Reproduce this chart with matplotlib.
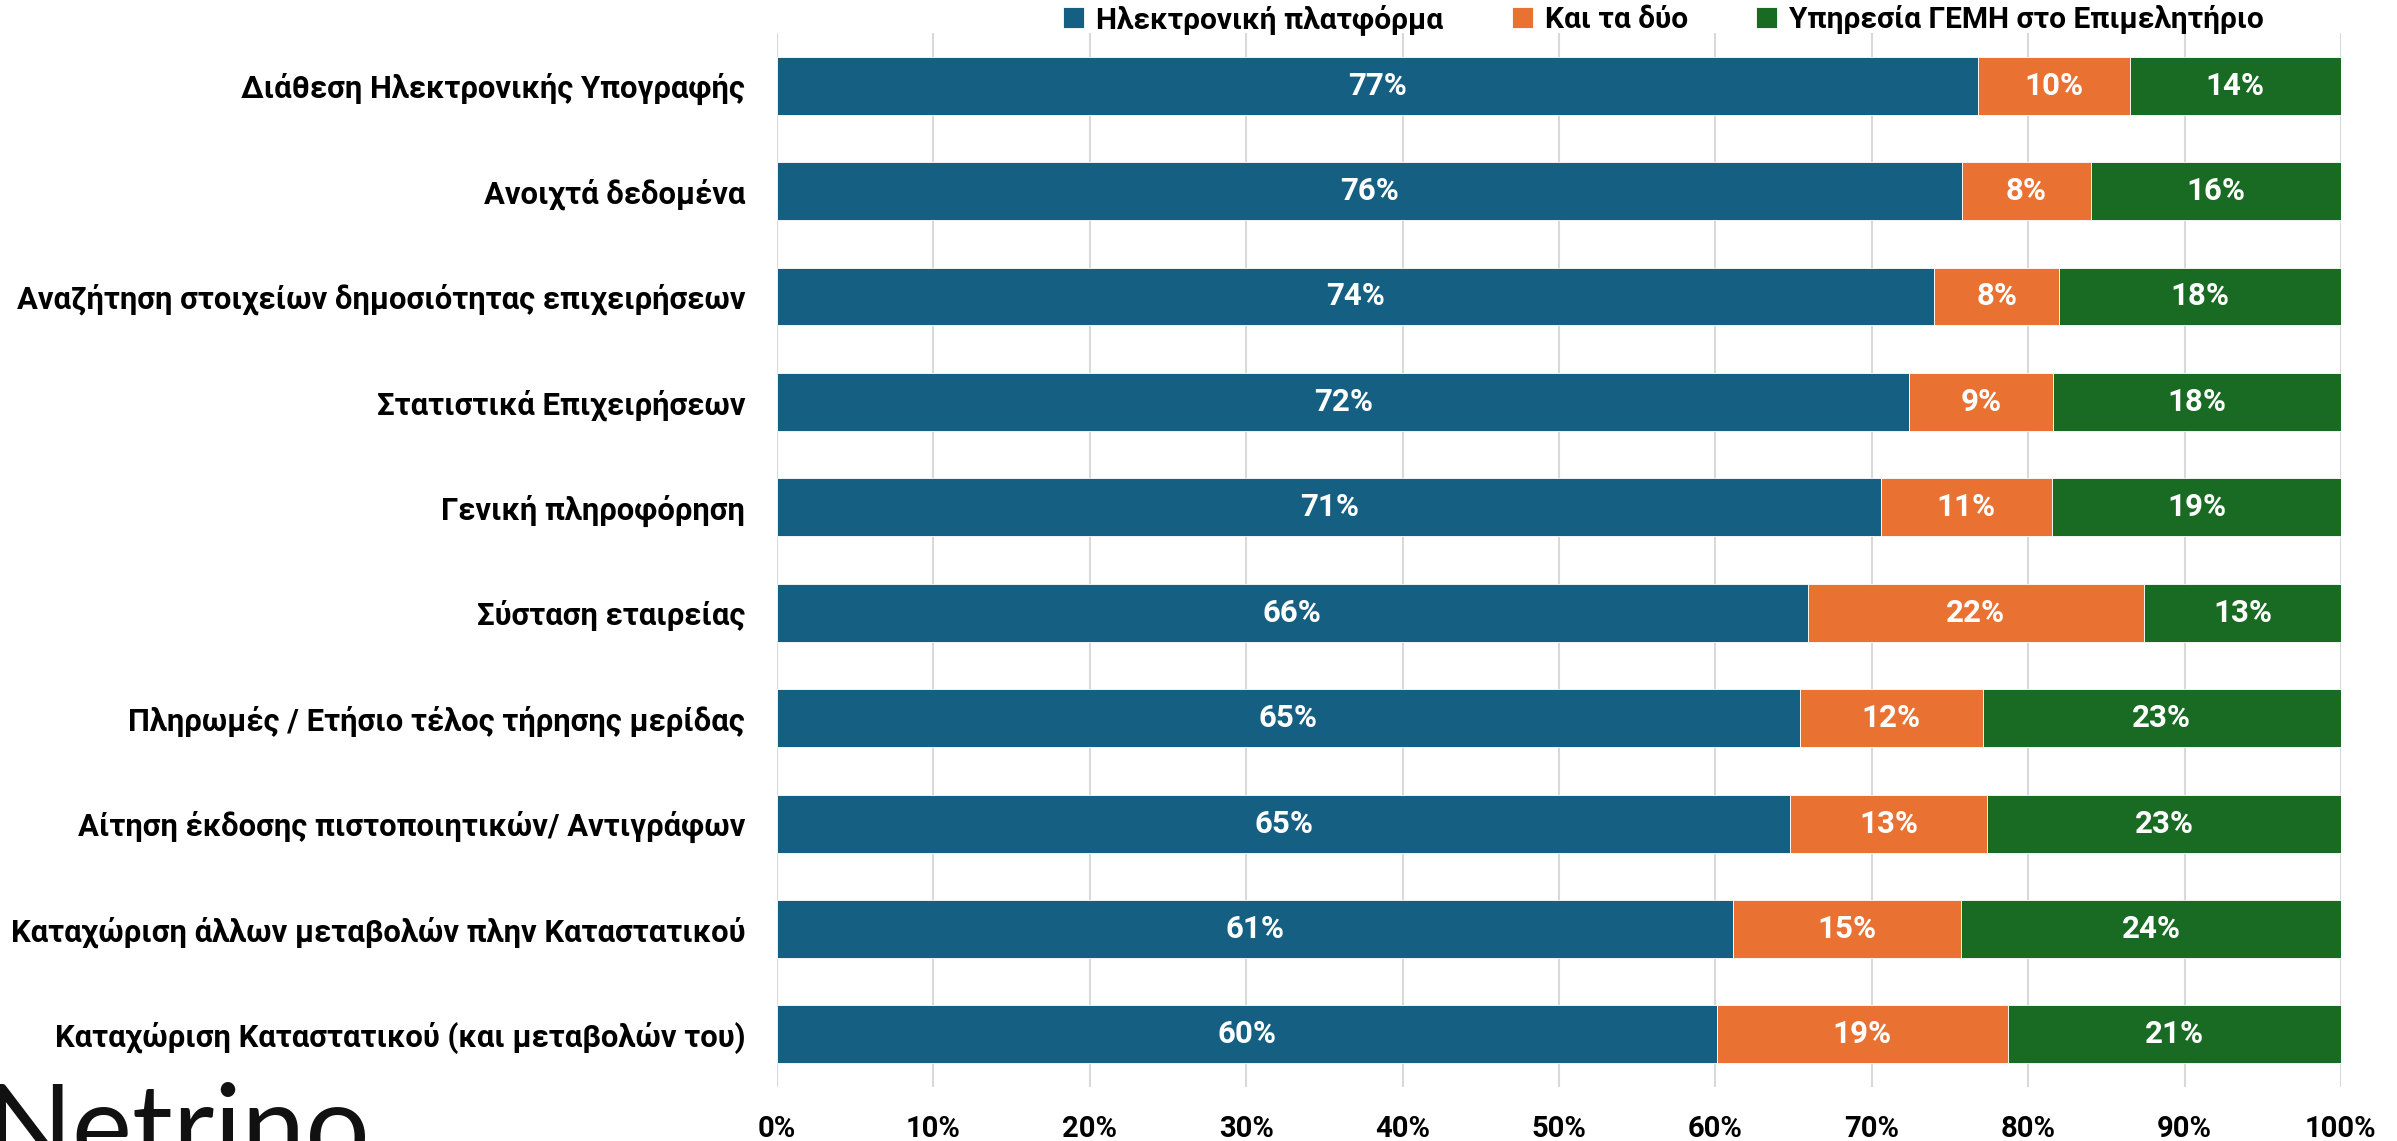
import numpy as np
import matplotlib.pyplot as plt

plt.rcParams['font.family'] = ['Roboto', 'DejaVu Sans']

# Service categories, top to bottom
categories = [
    'Διάθεση Ηλεκτρονικής Υπογραφής',
    'Ανοιχτά δεδομένα',
    'Αναζήτηση στοιχείων δημοσιότητας επιχειρήσεων',
    'Στατιστικά Επιχειρήσεων',
    'Γενική πληροφόρηση',
    'Σύσταση εταιρείας',
    'Πληρωμές / Ετήσιο τέλος τήρησης μερίδας',
    'Αίτηση έκδοσης πιστοποιητικών/ Αντιγράφων',
    'Καταχώριση άλλων μεταβολών πλην Καταστατικού',
    'Καταχώριση Καταστατικού (και μεταβολών του)',
]

series_names = ['Ηλεκτρονική πλατφόρμα', 'Και τα δύο', 'Υπηρεσία ΓΕΜΗ στο Επιμελητήριο']

# shares in percent
platform = [76.8, 75.8, 74.0, 72.4, 70.6, 65.9, 65.4, 64.8, 61.1, 60.1]
both = [9.7, 8.2, 8.0, 9.2, 10.9, 21.5, 11.7, 12.6, 14.6, 18.6]
chamber = [13.5, 16.0, 18.0, 18.4, 18.6, 12.6, 22.9, 22.6, 24.3, 21.3]

colors = ['#156082', '#E97132', '#196B24']

fig = plt.figure(figsize=(23.97, 11.41), dpi=100)
ax = fig.add_axes([0.3242, 0.0473, 0.6524, 0.9238])

y = np.arange(len(categories))
left = np.zeros(len(categories))
for name, vals, col in zip(series_names, [platform, both, chamber], colors):
    vals = np.array(vals)
    bars = ax.barh(y, vals, left=left, height=0.55, color=col, label=name,
                   edgecolor='white', linewidth=0.6, zorder=3)
    for b, v in zip(bars, vals):
        ax.text(b.get_x() + b.get_width() / 2, b.get_y() + b.get_height() / 2,
                f'{v:.0f}%', ha='center', va='center', color='white',
                fontsize=22.5, fontweight='bold', zorder=4)
    left += vals

ax.set_xlim(0, 100)
ax.set_ylim(len(categories) - 0.5, -0.5)
ax.set_xticks(np.arange(0, 101, 10))
ax.set_xticklabels([f'{t}%' for t in range(0, 101, 10)], fontsize=21, fontweight='bold')
ax.set_yticks(y)
ax.set_yticklabels(categories, fontsize=22.3, fontweight='bold')
ax.tick_params(axis='both', length=0)
ax.tick_params(axis='x', pad=20)
ax.tick_params(axis='y', pad=23)
ax.grid(axis='x', color='#d9d9d9', linewidth=1.5, zorder=0)
for s in ax.spines.values():
    s.set_visible(False)

fig.legend(loc='center', bbox_to_anchor=(0.694, 0.983), ncol=3, frameon=False,
           prop={'size': 21.5, 'weight': 'bold'}, handlelength=0.7, handleheight=0.7,
           handletextpad=0.4, columnspacing=2.3, borderaxespad=0)

# company wordmark, partly cut off at the bottom left
fig.text(-0.006, -0.022, 'Netrino', fontsize=82, family='Lato', color='#111111',
         ha='left', va='baseline')

fig.savefig('out.png', dpi=100)
